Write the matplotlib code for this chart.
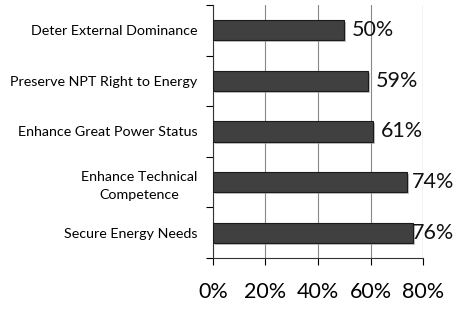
import matplotlib
matplotlib.use("Agg")
import matplotlib.pyplot as plt
import matplotlib.patheffects as pe
import numpy as np

# data, top to bottom as in the picture
categories = ["Deter External Dominance", "Preserve NPT Right to Energy",
              "Enhance Great Power Status", "Enhance Technical\nCompetence",
              "Secure Energy Needs"]
values = [50, 59, 61, 74, 76]
x_ticks = [0, 20, 40, 60, 80]

plt.rcParams['font.family'] = ['Lato', 'DejaVu Sans']

fig = plt.figure(figsize=(4.54, 3.09), dpi=100)
ax = fig.add_axes([0.469, 0.165, 0.463, 0.819])

y = np.arange(len(categories))[::-1]
bars = ax.barh(y, values, height=0.4, color="#404040", edgecolor="#1a1a1a",
               linewidth=0.8, zorder=3)
for b in bars:
    b.set_path_effects([pe.SimplePatchShadow(offset=(1.5, -1.5), shadow_rgbFace="#999999", alpha=0.6),
                        pe.Normal()])

# value labels, pushed left when they would run off the right edge
for yi, v in zip(y, values):
    ax.text(min(v + 3.0, 75.8), yi, f"{v}%", va="center", ha="left",
            fontsize=15.5, color="#111111", zorder=4)

ax.set_xlim(0, 80)
ax.set_ylim(-0.5, len(categories) - 0.5)
ax.set_xticks(x_ticks)
ax.set_xticklabels([f"{t}%" for t in x_ticks], fontsize=15.5)
ax.set_yticks(y)
ax.set_yticklabels(categories, fontsize=10.3, linespacing=1.55)
for lab in ax.get_yticklabels():
    lab.set_multialignment("center")
ax.set_yticks(np.arange(-0.5, len(categories), 1), minor=True)

ax.tick_params(axis="y", which="major", length=0, pad=11)
ax.tick_params(axis="y", which="minor", length=5, width=0.8, direction="out")
ax.tick_params(axis="x", length=5, width=0.8, direction="out", pad=12)

ax.grid(axis="x", color="#888888", linewidth=0.8, zorder=0)
ax.get_xgridlines()[-1].set_color("#222222")
ax.spines["top"].set_visible(False)
ax.spines["right"].set_visible(False)
for s in ["left", "bottom"]:
    ax.spines[s].set_color("#333333")
    ax.spines[s].set_linewidth(0.8)

fig.savefig("out.png", dpi=100)
